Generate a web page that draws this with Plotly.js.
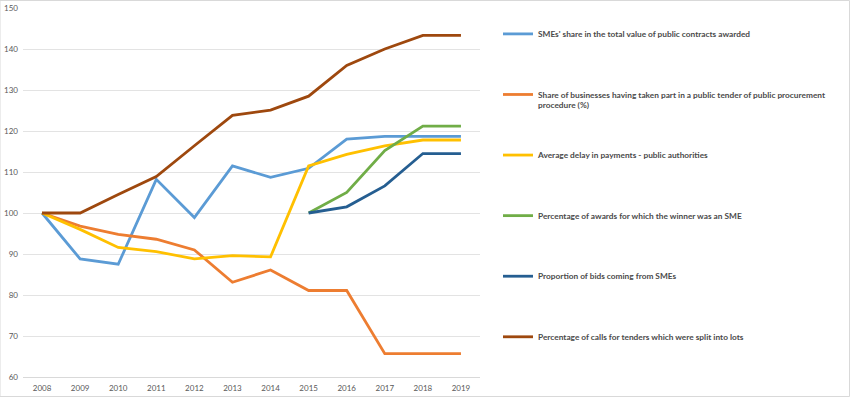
<!DOCTYPE html>
<html>
<head>
<meta charset="utf-8">
<script src="https://cdn.plot.ly/plotly-3.0.1.min.js"></script>
<style>html,body{margin:0;padding:0;background:#fff;}#chart{width:850px;height:397px;}</style>
</head>
<body>
<div id="chart"></div>
<script>
const years = ['2008','2009','2010','2011','2012','2013','2014','2015','2016','2017','2018','2019'];
const yearsLate = ['2015','2016','2017','2018','2019'];

const smeShareValue = [100, 88.8, 87.5, 108.2, 98.9, 111.5, 108.7, 110.9, 118.0, 118.7, 118.7, 118.7];
const businessesTender = [100, 96.8, 94.8, 93.6, 91.0, 83.1, 86.1, 81.1, 81.1, 65.7, 65.7, 65.7];
const paymentDelay = [100, 96.0, 91.6, 90.6, 88.8, 89.6, 89.3, 111.5, 114.3, 116.4, 117.8, 117.8];
const smeWinnerAwards = [100, 105.0, 115.2, 121.2, 121.2];
const smeBids = [100, 101.5, 106.6, 114.5, 114.5];
const splitLots = [100, 100, 104.5, 108.9, 116.4, 123.8, 125.1, 128.5, 136.0, 140.0, 143.3, 143.3];

const seriesNames = [
  "SMEs' share in the total value of public contracts awarded",
  "Share of businesses having taken part in a public tender of public procurement<br>procedure (%)",
  "Average delay in payments - public authorities",
  "Percentage of awards for which the winner was an SME",
  "Proportion of bids coming from SMEs",
  "Percentage of calls for tenders which were split into lots"
];
const seriesColors = ['#5B9BD5','#ED7D31','#FFC000','#70AD47','#255E91','#9E480E'];
const seriesX = [years, years, years, yearsLate, yearsLate, years];
const seriesY = [smeShareValue, businessesTender, paymentDelay, smeWinnerAwards, smeBids, splitLots];

const traces = seriesY.map((y, i) => ({
  type: 'scatter',
  mode: 'lines',
  x: seriesX[i],
  y: y,
  name: seriesNames[i].indexOf('<br>') >= 0 ? seriesNames[i] : seriesNames[i] + '<br> ',
  legendgroup: 'g' + i,
  line: {color: seriesColors[i], width: 2.8},
  hoverinfo: 'x+y+name'
}));

const layout = {
  width: 850,
  height: 397,
  margin: {l: 23, r: 370, t: 8, b: 20},
  paper_bgcolor: '#ffffff',
  plot_bgcolor: '#ffffff',
  font: {family: 'Lato, sans-serif', color: '#595959', size: 8},
  xaxis: {
    type: 'category',
    categoryorder: 'array',
    categoryarray: years,
    range: [-0.5, 11.5],
    showgrid: false,
    zeroline: false,
    showline: true,
    linecolor: '#D9D9D9',
    linewidth: 1,
    ticks: '',
    ticklabelstandoff: 3,
    tickfont: {size: 8, color: '#595959'}
  },
  yaxis: {
    range: [60, 150],
    dtick: 10,
    tick0: 60,
    showgrid: true,
    gridcolor: '#E3E3E3',
    gridwidth: 1,
    zeroline: false,
    showline: false,
    ticks: '',
    ticklabelstandoff: 4,
    tickfont: {size: 8, color: '#595959'}
  },
  showlegend: true,
  legend: {
    xref: 'container', yref: 'container',
    x: 498/850, y: 1 - 22/397,
    xanchor: 'left', yanchor: 'top',
    bgcolor: 'rgba(0,0,0,0)',
    font: {family: 'Lato, sans-serif', size: 8.3, color: '#4A4A4A', weight: 'bold'},
    traceorder: 'grouped',
    tracegroupgap: 36,
    valign: 'top',
    maxheight: 397,
    itemclick: false
  },
  shapes: [{
    type: 'rect', xref: 'paper', yref: 'paper',
    x0: -23/457, x1: 1 + 369.5/457, y0: -19.5/369, y1: 1 + 7.5/369,
    line: {color: '#D9D9D9', width: 1}, fillcolor: 'rgba(0,0,0,0)', layer: 'below'
  }]
};

Plotly.newPlot('chart', traces, layout, {staticPlot: true, displayModeBar: false});
</script>
</body>
</html>
